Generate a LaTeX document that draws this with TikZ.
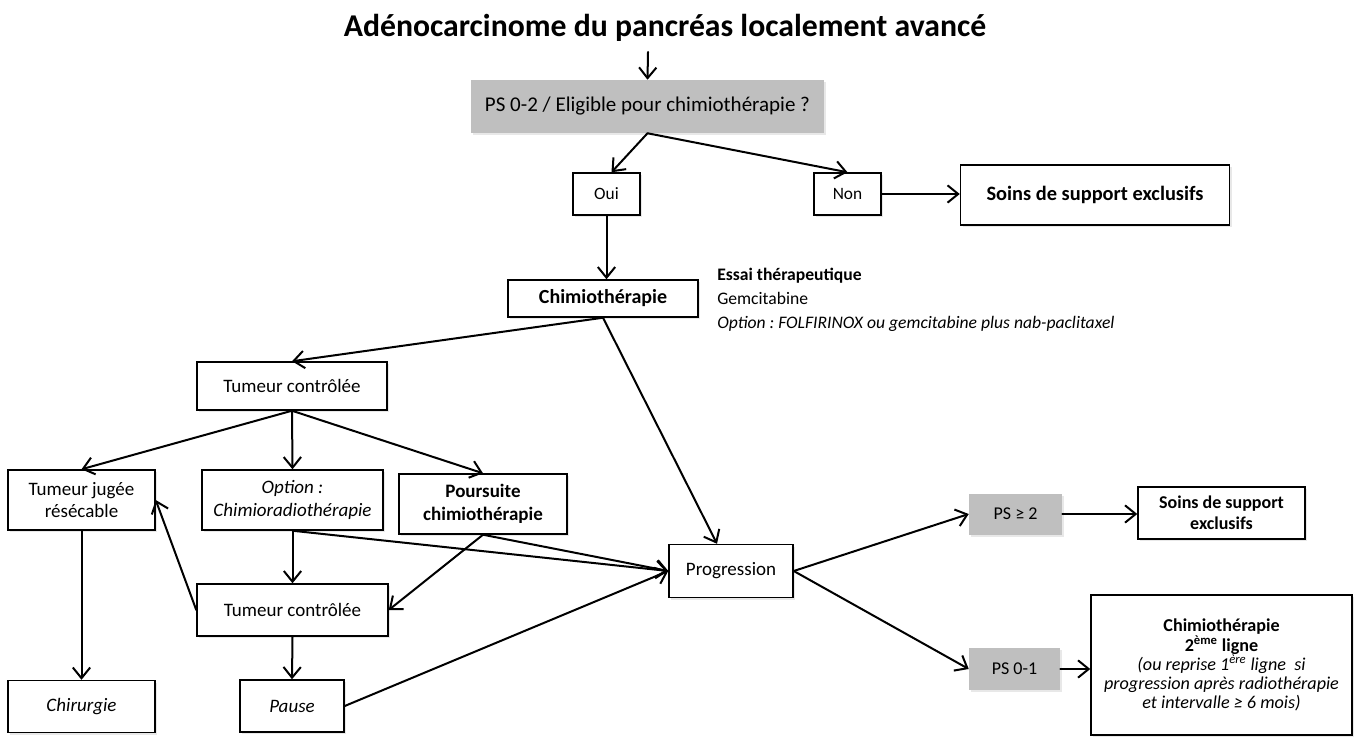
\documentclass[tikz,border=0pt]{standalone}
\usepackage{fontspec}
\setmainfont{Carlito}
\usetikzlibrary{arrows.meta,calc,shadows}
\definecolor{psgray}{HTML}{BFBFBF}
\frenchspacing
\begin{document}
\begin{tikzpicture}[x=0.75pt,y=-0.75pt,
  sz/.style 2 args={minimum width=#1*0.75pt,minimum height=#2*0.75pt},
  box/.style={draw=black,line width=1.1pt,fill=white,inner sep=0pt,align=center,
    font=\fontsize{14.25pt}{17pt}\selectfont,
    drop shadow={opacity=0.18,shadow xshift=1.5pt,shadow yshift=-1.5pt}},
  graybox/.style={fill=psgray,draw=none,inner sep=0pt,align=center,
    drop shadow={opacity=0.18,shadow xshift=1.5pt,shadow yshift=-1.5pt}},
  arr/.style={-{Straight Barb[length=8pt,width=13pt]},line width=1.5pt,line cap=round}]
\useasboundingbox (0,0) rectangle (1358,737);

\node (title) at (665,28) {\fontsize{23.8pt}{28pt}\selectfont\bfseries Adénocarcinome du pancréas localement avancé};
\coordinate (tstart) at (648,52);

\node[graybox,sz={353}{53},font=\fontsize{15.75pt}{18pt}\selectfont] (ps02) at (647.5,106.5) {PS 0-2 / Eligible pour chimiothérapie ?};
\node[box,sz={67}{42},font=\fontsize{13pt}{15pt}\selectfont] (oui) at (606.5,194) {Oui};
\node[box,sz={67}{42},font=\fontsize{13pt}{15pt}\selectfont] (non) at (847.5,194) {Non};
\node[box,sz={269}{60},font=\fontsize{15.3pt}{18pt}\selectfont\bfseries] (soins1) at (1095,195) {Soins de support exclusifs};

\node[box,sz={190}{37},font=\fontsize{15pt}{18pt}\selectfont\bfseries] (chimio) at (603,298.5) {Chimiothérapie};
\node[anchor=west,align=left,inner sep=0pt,font=\fontsize{13.2pt}{18pt}\selectfont] (essai) at (717,300) {\textbf{Essai thérapeutique}\\Gemcitabine\\\textit{Option : FOLFIRINOX ou gemcitabine plus nab-paclitaxel}};

\node[box,sz={190}{48}] (tc1) at (292,386) {Tumeur contrôlée};
\node[box,sz={147}{60}] (tjr) at (81.5,500) {Tumeur jugée\\résécable};
\node[box,sz={181}{60},font=\fontsize{14.25pt}{17pt}\selectfont\itshape] (opt) at (292.5,500) {Option :\\Chimioradiothérapie};
\node[box,sz={168}{60},font=\fontsize{14.25pt}{17pt}\selectfont\bfseries] (pour) at (483,504) {Poursuite\\chimiothérapie};
\node[box,sz={124}{53}] (prog) at (731,571) {Progression};
\node[box,sz={191}{52}] (tc2) at (292.5,610) {Tumeur contrôlée};
\node[box,sz={104}{52},font=\fontsize{14.25pt}{17pt}\selectfont\itshape] (pause) at (292,706) {Pause};
\node[box,sz={147}{52},font=\fontsize{14.25pt}{17pt}\selectfont\itshape] (chir) at (81.5,706.5) {Chirurgie};

\node[graybox,sz={93}{41},font=\fontsize{13.5pt}{16pt}\selectfont] (ps2) at (1015.5,514) {PS ≥ 2};
\node[box,sz={167}{52},font=\fontsize{13.5pt}{16pt}\selectfont\bfseries] (soins2) at (1221.5,513) {Soins de support\\exclusifs};
\node[graybox,sz={91}{42},font=\fontsize{13.5pt}{16pt}\selectfont] (ps01) at (1014.5,669) {PS 0-1};
\node[box,sz={261}{140},font=\fontsize{13.6pt}{14.3pt}\selectfont] (chimio2) at (1221.5,665) {\textbf{Chimiothérapie}\\\textbf{2\textsuperscript{ème} ligne}\\\textit{(ou reprise 1\textsuperscript{ère} ligne\ \ si}\\\textit{progression après radiothérapie}\\\textit{et intervalle ≥ 6 mois)}};

\draw[arr] (tstart) -- (ps02.north);
\draw[arr] (ps02.south) -- ($(oui.north)+(5,0)$);
\draw[arr] (ps02.south) -- (non.north);
\draw[arr] (non.east) -- (non.east -| soins1.west);
\draw[arr] (oui.south) -- (oui.south |- chimio.north);
\draw[arr] (chimio.south) -- (tc1.north);
\draw[arr] (chimio.south) -- ($(prog.north)+(-14,0)$);
\draw[arr] (tc1.south) -- (tjr.north);
\draw[arr] (tc1.south) -- (opt.north);
\draw[arr] (tc1.south) -- (pour.north);
\draw[arr] (tjr.south) -- (chir.north);
\draw[arr] (opt.south) -- (tc2.north);
\draw[arr] (tc2.south) -- (pause.north);
\draw[arr] (tc2.west) -- (tjr.east);
\draw[arr] (opt.south) -- (prog.west);
\draw[arr] (pour.south) -- (prog.west);
\draw[arr] (pour.south) -- (tc2.east);
\draw[arr] (pause.east) -- (prog.west);
\draw[arr] (prog.east) -- (ps2.west);
\draw[arr] (prog.east) -- (ps01.west);
\draw[arr] (ps2.east) -- (ps2.east -| soins2.west);
\draw[arr] (ps01.east) -- (ps01.east -| chimio2.west);
\end{tikzpicture}
\end{document}
